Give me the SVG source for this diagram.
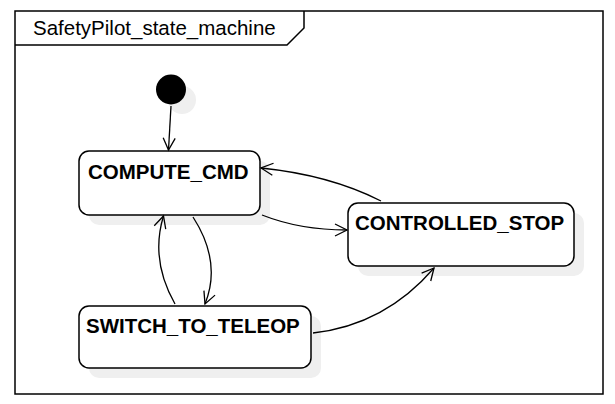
<svg xmlns="http://www.w3.org/2000/svg" width="615" height="404" viewBox="0 0 615 404">
<style>
.frame{fill:none;stroke:#000;stroke-width:1.5}
.state{fill:#fff;stroke:#000;stroke-width:1.5}
.shadow{fill:#efefef;stroke:none}
.lbl{font-family:"Liberation Sans",Arial,sans-serif;font-size:20.5px;font-weight:bold;fill:#000}
.title{font-family:"Liberation Sans",Arial,sans-serif;font-size:20.5px;fill:#000}
.edge{fill:none;stroke:#000;stroke-width:1.3}
</style>
<defs>
<marker id="arr" markerUnits="userSpaceOnUse" markerWidth="16" markerHeight="16" refX="13" refY="7" orient="auto">
<path d="M1,1 L13,7 L1,13" fill="none" stroke="#000" stroke-width="1.3"/>
</marker>
</defs>
<rect width="615" height="404" fill="#fff"/>
<g id="frame">
<rect class="frame" x="15" y="11" width="588" height="383"/>
<path class="frame" d="M15,45 L287,45 L304,28 L304,11"/>
<text class="title" x="33" y="35">SafetyPilot_state_machine</text>
</g>
<g id="initial">
<circle class="shadow" cx="182" cy="100" r="14"/>
<circle cx="171" cy="89.5" r="15" fill="#000"/>
</g>
<g id="COMPUTE_CMD">
<rect class="shadow" x="89" y="161" width="181" height="64" rx="10"/>
<rect class="state" x="79" y="151" width="181" height="64" rx="10"/>
<text class="lbl" x="88" y="179">COMPUTE_CMD</text>
</g>
<g id="CONTROLLED_STOP">
<rect class="shadow" x="358" y="213" width="226" height="63" rx="10"/>
<rect class="state" x="348" y="203" width="226" height="63" rx="10"/>
<text class="lbl" x="355" y="230">CONTROLLED_STOP</text>
</g>
<g id="SWITCH_TO_TELEOP">
<rect class="shadow" x="89" y="316" width="232" height="62" rx="10"/>
<rect class="state" x="79" y="306" width="232" height="62" rx="10"/>
<text class="lbl" x="86" y="333">SWITCH_TO_TELEOP</text>
</g>
<g id="connectors">
<path class="edge" d="M171,106 L168.5,150" marker-end="url(#arr)"/>
<path class="edge" d="M381,201 Q330,175 261,168" marker-end="url(#arr)"/>
<path class="edge" d="M262,215 Q300,230 347,230" marker-end="url(#arr)"/>
<path class="edge" d="M175,304 Q150,260 163.5,216" marker-end="url(#arr)"/>
<path class="edge" d="M193,217 Q222,262 205,304" marker-end="url(#arr)"/>
<path class="edge" d="M313,333 Q385,325 434,268" marker-end="url(#arr)"/>
</g>
</svg>
